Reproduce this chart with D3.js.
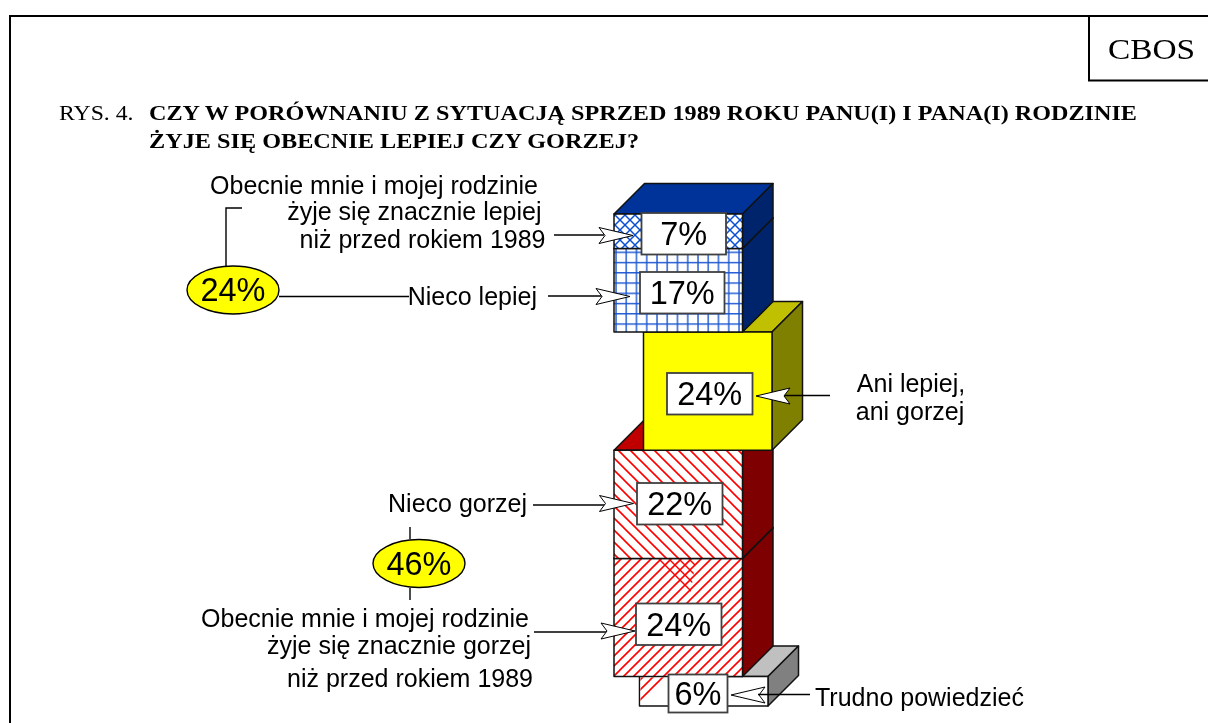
<!DOCTYPE html>
<html>
<head>
<meta charset="utf-8">
<script src="https://cdn.jsdelivr.net/npm/d3@7"></script>
<style>
html, body { margin: 0; background: #fff; }
svg { display: block; }
</style>
</head>
<body>
<svg id="svg1"></svg>
<script>
// data, stacked from the bottom of the tower upwards
const categories = [
  "Trudno powiedzieć",
  "Obecnie mnie i mojej rodzinie żyje się znacznie gorzej niż przed rokiem 1989",
  "Nieco gorzej",
  "Ani lepiej, ani gorzej",
  "Nieco lepiej",
  "Obecnie mnie i mojej rodzinie żyje się znacznie lepiej niż przed rokiem 1989"
];
const values = [6, 24, 22, 24, 17, 7];
const groupLabels = ["24%", "46%"];

const width = 1208;
const height = 723;
const font = "'Liberation Sans', Arial, sans-serif";
const serif = "'Liberation Serif', 'Times New Roman', serif";

// layout and styling, one entry per category
const lefts = [639.5, 614, 614, 643.5, 614, 614];
const frontFills = ["#fff", "url(#hatchUp)", "url(#hatchDown)", "#ff0", "url(#grid)", "url(#cross)"];
const topFills = ["#c0c0c0", "#c00000", "#c00000", "#c0c000", "#003399", "#003399"];
const sideFills = ["#808080", "#7f0000", "#7f0000", "#808000", "#00246b", "#00246b"];
const boxes = [
  {x: 668.5, y: 674.5, w: 59, h: 38},
  {x: 636, y: 603.5, w: 85.5, h: 41.5},
  {x: 637, y: 483, w: 85.5, h: 41.5},
  {x: 667, y: 373, w: 85.5, h: 41.5},
  {x: 640, y: 272, w: 84.5, h: 41.5},
  {x: 641.5, y: 213, w: 84.5, h: 41.5}
];

const cubeWidth = 128.5;
const depth = 30.5;

const y = d3.scaleLinear().domain([0, 100]).range([706, 214]);
const x = d3.scaleOrdinal().domain(categories).range(lefts);

const ends = Array.from(d3.cumsum(values));
const segments = categories.map((name, i) => ({
  name, value: values[i], start: i ? ends[i - 1] : 0, end: ends[i],
  front: frontFills[i], top: topFills[i], side: sideFills[i], box: boxes[i]
}));

const svg = d3.select("#svg1")
    .attr("width", width)
    .attr("height", height)
    .attr("viewBox", [0, 0, width, height]);

// hatch fills
const defs = svg.append("defs");
const hatch = (id, size, paths, color, sw) => {
  const p = defs.append("pattern")
      .attr("id", id)
      .attr("patternUnits", "userSpaceOnUse")
      .attr("width", size)
      .attr("height", size);
  p.append("rect").attr("width", size).attr("height", size).attr("fill", "#fff");
  p.append("path").attr("d", paths).attr("stroke", color).attr("stroke-width", sw).attr("fill", "none");
};
const diagUp = s => `M${-s / 4},${s / 4}L${s / 4},${-s / 4}M0,${s}L${s},0M${s * 0.75},${s * 1.25}L${s * 1.25},${s * 0.75}`;
const diagDown = s => `M${-s / 4},${s * 0.75}L${s / 4},${s * 1.25}M0,0L${s},${s}M${s * 0.75},${-s / 4}L${s * 1.25},${s / 4}`;
hatch("hatchUp", 10, diagUp(10), "#f00", 1.6);
hatch("hatchDown", 12, diagDown(12), "#f00", 1.6);
hatch("hatchOver", 10, diagDown(10), "#f00", 1.4);
hatch("cross", 10, "M0,0L10,10M0,10L10,0", "#0a4fd0", 1.5);
hatch("grid", 10.25, "M1,0V10.25M0,6.4H10.25", "#1a56d0", 1.4);

// tower, bottom cube first so the upper ones cover it
const tower = svg.append("g").attr("stroke", "#111").attr("stroke-width", 1.5).attr("stroke-linejoin", "round");
const poly = (pts, fill) => tower.append("path").attr("d", d3.line()(pts) + "Z").attr("fill", fill);

segments.forEach(d => {
  const l = x(d.name), r = l + cubeWidth, t = y(d.end), b = y(d.start);
  poly([[l, t], [r, t], [r + depth, t - depth], [l + depth, t - depth]], d.top);
  poly([[r, t], [r + depth, t - depth], [r + depth, b - depth], [r, b]], d.side);
  poly([[l, t], [r, t], [r, b], [l, b]], d.front);
});

// leftovers of the hatching in the source picture
const lower = segments[1], bottom = segments[0];
const lowerLeft = x(lower.name);
tower.append("path")
    .attr("d", d3.line()([[lowerLeft + 43, y(lower.end) + 1], [lowerLeft + 82, y(lower.end) + 1], [lowerLeft + 76, y(lower.end) + 38]]) + "Z")
    .attr("fill", "url(#hatchOver)")
    .attr("stroke", "none")
    .style("mix-blend-mode", "multiply");
const bottomLeft = x(bottom.name);
tower.append("path")
    .attr("d", d3.line()([[bottomLeft + 1, y(bottom.end) + 1], [bottomLeft + 30, y(bottom.end) + 1], [bottomLeft + 1, y(bottom.start) - 1]]) + "Z")
    .attr("fill", "url(#hatchUp)")
    .attr("stroke", "none");

// frame
const frame = svg.append("g").attr("fill", "none").attr("stroke", "#000").attr("stroke-width", 2);
frame.append("path").attr("d", "M10,723V16H1208");
frame.append("path").attr("d", "M1208,80.5H1089V16");

const text = (str, px, py, size, opts = {}) => {
  const t = svg.append("text")
      .attr("x", px)
      .attr("y", py)
      .attr("font-family", opts.family || font)
      .attr("font-size", size)
      .attr("font-weight", opts.weight || "normal")
      .attr("text-anchor", opts.anchor || "start")
      .attr("fill", "#000")
      .text(str);
  // the serif headings are stretched wider than the font in the source
  if (opts.length) t.attr("textLength", opts.length).attr("lengthAdjust", "spacingAndGlyphs");
  return t;
};

text("CBOS", 1108, 58.5, 30, {family: serif, length: 87});
text("RYS. 4.", 59, 120, 22, {family: serif, length: 74.5});
text("CZY W PORÓWNANIU Z SYTUACJĄ SPRZED 1989 ROKU PANU(I) I PANA(I) RODZINIE", 149, 120, 22, {family: serif, weight: "bold", length: 988});
text("ŻYJE SIĘ OBECNIE LEPIEJ CZY GORZEJ?", 149, 148, 22, {family: serif, weight: "bold", length: 490});

// connector lines
const leaders = [
  [[226, 266], [226, 208], [242, 208]],
  [[279, 296.5], [409, 296.5]],
  [[410, 527], [410, 539]],
  [[410, 588], [410, 600]],
  [[554, 235], [604, 235]],
  [[548, 296], [602, 296]],
  [[533, 505], [605, 505]],
  [[534, 632], [607, 632]],
  [[783, 395.5], [830, 395.5]]
];
svg.append("g").selectAll("path").data(leaders).join("path")
    .attr("d", d3.line())
    .attr("fill", "none")
    .attr("stroke", "#000")
    .attr("stroke-width", 1.4);

// notched white arrows
const arrowTips = [[633, 235.5, 1], [630, 296.5, 1], [633.5, 503.5, 1], [635, 631, 1], [756, 396, -1], [731, 695, -1]];
svg.append("g").selectAll("path").data(arrowTips).join("path")
    .attr("d", ([tx, ty, dir]) => d3.line()([
      [tx, ty],
      [tx - dir * 34, ty - 8],
      [tx - dir * 28, ty],
      [tx - dir * 34, ty + 8]
    ]) + "Z")
    .attr("fill", "#fff")
    .attr("stroke", "#000")
    .attr("stroke-width", 1);

svg.append("path")
    .attr("d", "M758,694.5H810")
    .attr("stroke", "#000")
    .attr("stroke-width", 1.4);

// value boxes
const boxG = svg.append("g").selectAll("g").data(segments).join("g");
boxG.append("rect")
    .attr("x", d => d.box.x)
    .attr("y", d => d.box.y)
    .attr("width", d => d.box.w)
    .attr("height", d => d.box.h)
    .attr("fill", "#fff")
    .attr("stroke", "#404040")
    .attr("stroke-width", 1.8);
boxG.append("text")
    .attr("x", d => d.box.x + d.box.w / 2)
    .attr("y", d => d.box.y + d.box.h / 2 + 11.5)
    .attr("text-anchor", "middle")
    .attr("font-family", font)
    .attr("font-size", 32.5)
    .text(d => d.value + "%");

// yellow summary ellipses
const ovals = [[233, 290], [419, 563.5]];
const ovalG = svg.append("g").selectAll("g").data(groupLabels).join("g");
ovalG.append("ellipse")
    .attr("cx", (d, i) => ovals[i][0])
    .attr("cy", (d, i) => ovals[i][1])
    .attr("rx", 46)
    .attr("ry", 24)
    .attr("fill", "#ff0")
    .attr("stroke", "#000")
    .attr("stroke-width", 1.4);
ovalG.append("text")
    .attr("x", (d, i) => ovals[i][0])
    .attr("y", (d, i) => ovals[i][1] + 11)
    .attr("text-anchor", "middle")
    .attr("font-family", font)
    .attr("font-size", 32.5)
    .text(d => d);

// category captions
const labelSize = 25;
text("Obecnie mnie i mojej rodzinie", 538, 193.5, labelSize, {anchor: "end"});
text("żyje się znacznie lepiej", 541.5, 219.5, labelSize, {anchor: "end"});
text("niż przed rokiem 1989", 545.5, 248, labelSize, {anchor: "end"});
text("Nieco lepiej", 537, 305, labelSize, {anchor: "end"});
text("Ani lepiej,", 911, 392, labelSize, {anchor: "middle"});
text("ani gorzej", 910, 419.5, labelSize, {anchor: "middle"});
text("Nieco gorzej", 527, 512, labelSize, {anchor: "end"});
text("Obecnie mnie i mojej rodzinie", 529, 627, labelSize, {anchor: "end"});
text("żyje się znacznie gorzej", 531, 654, labelSize, {anchor: "end"});
text("niż przed rokiem 1989", 533, 687, labelSize, {anchor: "end"});
text("Trudno powiedzieć", 815, 706, labelSize);
</script>
</body>
</html>
